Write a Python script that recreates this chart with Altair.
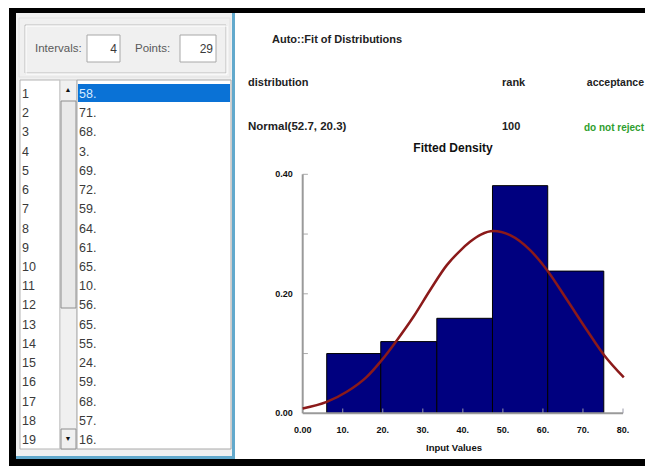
import altair as alt
import pandas as pd

# ---------------- data ----------------
row_numbers = list(range(1, 20))
input_values = [58, 71, 68, 3, 69, 72, 59, 64, 61, 65, 10, 56, 65, 55, 24, 59, 68, 57, 16]

bin_start = [6.0, 19.5, 33.5, 47.4, 61.2]
bin_end = [19.5, 33.5, 47.4, 61.2, 75.2]
bin_density = [0.100, 0.120, 0.159, 0.381, 0.238]

curve_x = [0, 6, 11, 16, 19.75, 23.5, 27.7, 31.8, 36, 39.3, 41.8, 44.5, 47.6,
           51.8, 56.8, 61, 66, 71, 75.2, 80.2]
curve_y = [0.008, 0.019, 0.036, 0.061, 0.089, 0.122, 0.162, 0.206, 0.248, 0.272,
           0.287, 0.299, 0.305, 0.298, 0.273, 0.240, 0.190, 0.139, 0.098, 0.060]

x_ticks = [0, 10, 20, 30, 40, 50, 60, 70, 80]
x_inner_ticks = [10, 20, 30, 40, 50, 60, 70, 80]
y_ticks = [0.0, 0.2, 0.4]
y_inner_ticks = [0.1, 0.2, 0.3, 0.4]

table_header = ["distribution", "rank", "acceptance"]
table_row = ["Normal(52.7, 20.3)", "100", "do not reject"]
intervals_text = "4"
points_text = "29"

# ---------------- layout helpers (page pixel -> chart pixel) ----------------
M = 8
W, H = 637, 458
FONT = "Liberation Sans, Arial, Helvetica, sans-serif"
one = pd.DataFrame({"k": [0]})


def rect(x1, x2, y1, y2, fill, stroke=None, sw=1):
    kw = dict(fill=fill)
    if stroke:
        kw.update(stroke=stroke, strokeWidth=sw)
    else:
        kw.update(strokeWidth=0)
    return alt.Chart(one).mark_rect(**kw).encode(
        x=alt.value(x1 - M), x2=alt.value(x2 - M),
        y=alt.value(y1 - M), y2=alt.value(y2 - M))


def box(x1, x2, y1, y2, stroke, sw=1):
    return alt.Chart(one).mark_rect(fillOpacity=0, stroke=stroke, strokeWidth=sw).encode(
        x=alt.value(x1 - M), x2=alt.value(x2 - M),
        y=alt.value(y1 - M), y2=alt.value(y2 - M))


def text(s, x, y, size=11, bold=False, color="#222222", align="left"):
    return alt.Chart(one).mark_text(
        text=s, font=FONT, fontSize=size, fontWeight="bold" if bold else "normal",
        color=color, align=align, baseline="middle").encode(
        x=alt.value(x - M), y=alt.value(y - M))


# ---------------- histogram + fitted curve (scales mapped onto the plot box) ----------------
xs = alt.Scale(domain=[0, 80], range=[302.7 - M, 623 - M], nice=False, zero=False)
ys = alt.Scale(domain=[0, 0.4], range=[413.3 - M, 174.3 - M], nice=False, zero=False)


def XD(v):
    return alt.XDatum(v, scale=xs, axis=None)


def YD(v):
    return alt.YDatum(v, scale=ys, axis=None)


bins_df = pd.DataFrame({"start": bin_start, "end": bin_end, "density": bin_density})
bars = alt.Chart(bins_df).mark_rect(fill="#00007f", stroke="#000000", strokeWidth=1).encode(
    x=alt.X("start:Q", scale=xs, axis=None), x2="end:Q",
    y=alt.Y("density:Q", scale=ys, axis=None), y2=alt.Y2Datum(0))

xt_df = pd.DataFrame({"t": x_inner_ticks})
xticks = alt.Chart(xt_df).mark_rule(color="#9a9aaa", strokeWidth=1).encode(
    x=alt.X("t:Q", scale=xs, axis=None), y=YD(0), y2=alt.Y2Datum(0.008))

yt_df = pd.DataFrame({"t": y_inner_ticks})
yticks = alt.Chart(yt_df).mark_rule(color="#aaaaaa", strokeWidth=1).encode(
    y=alt.Y("t:Q", scale=ys, axis=None), x=XD(0), x2=alt.X2Datum(1.3))

x_domain = alt.Chart(one).mark_rule(color="#9a9a9a", strokeWidth=2).encode(
    x=XD(0), x2=alt.X2Datum(80), y=YD(0))
y_domain = alt.Chart(one).mark_rule(color="#9a9a9a", strokeWidth=2).encode(
    y=YD(0), y2=alt.Y2Datum(0.4), x=XD(0))

xl_df = pd.DataFrame({"t": x_ticks,
                      "lab": ["0.00" if v == 0 else f"{v}." for v in x_ticks]})
x_labels = alt.Chart(xl_df).mark_text(
    font=FONT, fontSize=9, fontWeight="bold", color="#111111", align="center",
    baseline="middle", dy=17).encode(
    x=alt.X("t:Q", scale=xs, axis=None), y=YD(0), text="lab:N")

yl_df = pd.DataFrame({"t": y_ticks, "lab": [f"{v:.2f}" for v in y_ticks]})
y_labels = alt.Chart(yl_df).mark_text(
    font=FONT, fontSize=9, fontWeight="bold", color="#111111", align="right",
    baseline="middle", dx=-10).encode(
    y=alt.Y("t:Q", scale=ys, axis=None), x=XD(0), text="lab:N")

curve_df = pd.DataFrame({"cx": curve_x, "cy": curve_y})
curve = alt.Chart(curve_df).mark_line(color="#8b1a1a", strokeWidth=2.5,
                                      interpolate="monotone").encode(
    x=alt.X("cx:Q", scale=xs, axis=None), y=alt.Y("cy:Q", scale=ys, axis=None))

hist = alt.layer(bars, xticks, yticks, x_domain, y_domain, x_labels, y_labels, curve)

# ---------------- list of input values ----------------
list_df = pd.DataFrame({
    "idx": row_numbers,
    "num": [str(n) for n in row_numbers],
    "val": [f"{v}." for v in input_values],
})
rows_scale = alt.Scale(domain=[1, 19], range=[94 - M, 440 - M], nice=False, zero=False)
num_text = alt.Chart(list_df).mark_text(
    font=FONT, fontSize=12.5, align="left", baseline="middle", color="#3a3a3a").encode(
    x=alt.value(22 - M), y=alt.Y("idx:Q", scale=rows_scale, axis=None), text="num:N")
val_text = alt.Chart(list_df).mark_text(
    font=FONT, fontSize=12.5, align="left", baseline="middle").encode(
    x=alt.value(79 - M), y=alt.Y("idx:Q", scale=rows_scale, axis=None), text="val:N",
    color=alt.condition(alt.datum.idx == 1, alt.value("#d6ebff"), alt.value("#3a3a3a")))
list_layer = alt.layer(num_text, val_text)

# ---------------- window chrome ----------------
chrome = [
    rect(9, 653, 4, 13, "#000000"),
    rect(9, 16, 4, 466, "#000000"),
    rect(9, 653, 459, 466, "#000000"),
    rect(16, 232, 13, 456, "#f0f0f0"),
    rect(232, 235, 13, 459, "#62a9cc"),
    rect(16, 235, 456, 459, "#62a9cc"),
    box(19, 230, 18, 77, "#e2e2e2"),
    box(25, 226, 25, 73, "#bdbdbd"),
    box(26, 227, 26, 74, "#ffffff"),
    rect(87, 120, 35, 62, "#ffffff", "#a8a8a8"),
    rect(180, 216, 35, 62, "#ffffff", "#a8a8a8"),
    text("Intervals:", 35, 49, 11.5, False, "#5a5a5a"),
    text(intervals_text, 117, 49, 12, False, "#3a3a3a", "right"),
    text("Points:", 135, 49, 11.5, False, "#5a5a5a"),
    text(points_text, 213, 49, 12, False, "#3a3a3a", "right"),
    rect(20, 60, 80, 449, "#ffffff", "#b4b4b4"),
    rect(60, 77, 80, 449, "#f0f0f0", "#c8c8c8"),
    rect(61, 76, 101, 308, "#e9e9e9", "#8e8e8e"),
    rect(61, 76, 429, 449, "#f0f0f0", "#8e8e8e"),
    text("\u25b2", 68, 90, 7, False, "#111111", "center"),
    text("\u25bc", 68, 439, 7, False, "#111111", "center"),
    rect(77, 231, 80, 449, "#ffffff", "#a8a8a8"),
    rect(78, 230, 84, 102, "#0a72d6"),
]

right_texts = [
    text("Auto::Fit of Distributions", 272, 40, 11, True, "#222222"),
    text(table_header[0], 248, 83, 11, True, "#222222"),
    text(table_header[1], 502, 83, 11, True, "#222222"),
    text(table_header[2], 644, 83, 10.5, True, "#222222", "right"),
    text(table_row[0], 248, 127, 11.5, True, "#222222"),
    text(table_row[1], 502, 127, 11, True, "#222222"),
    text(table_row[2], 584, 128, 10, True, "#2e9e2e"),
    text("Fitted Density", 453, 148, 12, True, "#111111", "center"),
    text("Input Values", 454, 448, 9.5, True, "#111111", "center"),
]

chart = alt.layer(*chrome, list_layer, hist, *right_texts).resolve_scale(
    y="independent"
).properties(
    width=W, height=H, padding=0, autosize=alt.AutoSizeParams(type="none"),
    background="#ffffff"
).configure_view(stroke=None)

chart.save("out.html", embed_options={"renderer": "svg", "actions": False})
